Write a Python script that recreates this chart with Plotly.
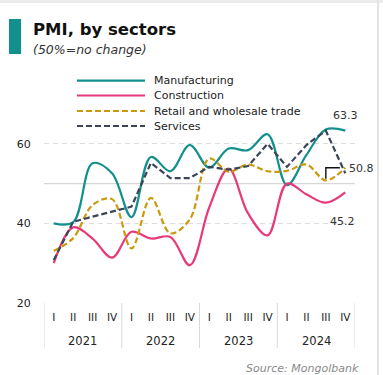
import plotly.graph_objects as go

# Quarterly PMI readings by sector, 2021 Q1 - 2024 Q4
quarters = ["I", "II", "III", "IV"] * 4
years = ["2021", "2022", "2023", "2024"]

manufacturing = [40.0, 40.3, 55.1, 52.6, 41.6, 56.7, 53.1, 59.7,
                 54.0, 58.8, 58.4, 62.4, 49.6, 57.2, 63.6, 63.3]
construction = [30.0, 39.0, 36.2, 31.4, 37.9, 36.2, 36.6, 29.5,
                44.0, 53.8, 42.5, 37.0, 50.0, 47.3, 45.2, 47.8]
retail = [33.1, 36.3, 44.6, 46.1, 33.7, 46.4, 37.5, 41.0,
          56.3, 53.0, 54.8, 53.1, 53.2, 54.8, 50.8, 54.0]
services = [30.8, 40.4, 41.7, 43.0, 44.2, 55.2, 51.4, 51.4,
            54.2, 53.5, 54.4, 60.0, 54.2, 59.7, 63.3, 52.6]

series_names = ["Manufacturing", "Construction",
                "Retail and wholesale trade", "Services"]
series_values = [manufacturing, construction, retail, services]

styles = {
    "Manufacturing": dict(color="#12908e", dash="solid", shape="spline"),
    "Construction": dict(color="#e8397a", dash="solid", shape="spline"),
    "Retail and wholesale trade": dict(color="#c99a0e", dash="6px,3px", shape="spline"),
    "Services": dict(color="#3b4558", dash="6px,3px", shape="linear"),
}

FONT = "DejaVu Sans"
x = list(range(len(quarters)))

fig = go.Figure()
for name, vals in zip(series_names, series_values):
    st = styles[name]
    fig.add_trace(go.Scatter(
        x=x, y=vals, mode="lines", name=name,
        line=dict(color=st["color"], width=2.2, dash=st["dash"],
                  shape=st["shape"], smoothing=1.0),
        showlegend=False, hoverinfo="skip",
    ))

# Pixel helpers for the plot frame (l=44, t=104, w=311, h=199)
def px_x(p):
    return (p - 44) / 311.0

def px_y(p):
    return (303 - p) / 199.0

shapes = []
annotations = []

# Frame decorations: top band, right rule, title marker
shapes.append(dict(type="rect", xref="paper", yref="paper",
                   x0=px_x(0), x1=px_x(383), y0=px_y(3), y1=px_y(0),
                   fillcolor="#ebebeb", line=dict(width=0), layer="below"))
shapes.append(dict(type="line", xref="paper", yref="paper",
                   x0=px_x(378), x1=px_x(378), y0=px_y(375), y1=px_y(0),
                   line=dict(color="#e3e3e3", width=2)))
shapes.append(dict(type="rect", xref="paper", yref="paper",
                   x0=px_x(9), x1=px_x(21), y0=px_y(54), y1=px_y(19),
                   fillcolor="#12908e", line=dict(width=0)))

annotations.append(dict(text="<b>PMI, by sectors</b>", xref="paper", yref="paper",
                        x=px_x(31), y=px_y(30), xanchor="left", yanchor="middle",
                        showarrow=False, font=dict(family=FONT, size=16.5, color="#111")))
annotations.append(dict(text="<i>(50%=no change)</i>", xref="paper", yref="paper",
                        x=px_x(31), y=px_y(49), xanchor="left", yanchor="middle",
                        showarrow=False, font=dict(family=FONT, size=12.5, color="#333")))

# Legend drawn as line samples with labels
legend_rows = [80.7, 95.5, 111, 126]
for name, row in zip(series_names, legend_rows):
    st = styles[name]
    shapes.append(dict(type="line", xref="paper", yref="paper",
                       x0=px_x(77), x1=px_x(145), y0=px_y(row), y1=px_y(row),
                       line=dict(color=st["color"], width=2.2, dash=st["dash"])))
    annotations.append(dict(text=name, xref="paper", yref="paper",
                            x=px_x(152), y=px_y(row), xanchor="left", yanchor="middle",
                            showarrow=False, font=dict(family=FONT, size=11, color="#222")))

# 50% reference line (solid)
shapes.append(dict(type="line", xref="paper", yref="y", x0=0, x1=1, y0=50, y1=50,
                   line=dict(color="#d6d6d6", width=1.2), layer="below"))

# Year separators below the axis
for b in [-0.5, 3.5, 7.5, 11.5, 15.5]:
    shapes.append(dict(type="line", xref="x", yref="paper", x0=b, x1=b,
                       y0=0, y1=px_y(348), line=dict(color="#d9d9d9", width=1)))
for i, yr in enumerate(years):
    annotations.append(dict(text=yr, xref="x", yref="paper", x=4 * i + 1.5, y=px_y(341),
                            xanchor="center", yanchor="middle", showarrow=False,
                            font=dict(family=FONT, size=11.5, color="#222")))

# Value call-outs for the latest readings
annotations.append(dict(text=f"{manufacturing[15]}", xref="x", yref="y",
                        x=15, y=manufacturing[15], yshift=15, xanchor="center",
                        yanchor="middle", showarrow=False,
                        font=dict(family=FONT, size=11, color="#333")))
annotations.append(dict(text=f"{construction[14]}", xref="x", yref="y",
                        x=14.85, y=construction[14], yshift=-19, xanchor="center",
                        yanchor="middle", showarrow=False,
                        font=dict(family=FONT, size=11, color="#333")))
annotations.append(dict(text=f"{retail[14]}", xref="x", yref="y",
                        x=15, y=retail[14], xshift=2, yshift=12, xanchor="left",
                        yanchor="middle", showarrow=False,
                        font=dict(family=FONT, size=11, color="#333")))
shapes.append(dict(type="path", xref="x", yref="y",
                   path=f"M 14,{retail[14] + 0.4} L 14,{retail[14] + 3.2} L 14.72,{retail[14] + 3.2}",
                   line=dict(color="#111", width=1.4)))

annotations.append(dict(text="<i>Source: Mongolbank</i>", xref="paper", yref="paper",
                        x=px_x(361), y=px_y(368), xanchor="right", yanchor="middle",
                        showarrow=False, font=dict(family=FONT, size=11, color="#8a8a8a")))

fig.update_layout(
    width=383, height=375,
    margin=dict(l=44, r=28, t=104, b=72, pad=0),
    paper_bgcolor="white", plot_bgcolor="white",
    shapes=shapes, annotations=annotations,
    showlegend=False,
    font=dict(family=FONT, size=11, color="#222"),
)
fig.update_xaxes(range=[-0.5, 15.5], tickvals=x, ticktext=quarters,
                 showgrid=False, zeroline=False, showline=False,
                 ticks="outside", ticklen=4, tickcolor="rgba(0,0,0,0)",
                 tickfont=dict(family=FONT, size=10.5, color="#222"), fixedrange=True)
fig.update_yaxes(range=[20, 70], tickvals=[20, 40, 60],
                 showgrid=True, gridcolor="#dcdcdc", griddash="5px,4px", gridwidth=1,
                 zeroline=False, showline=False,
                 ticks="outside", ticklen=10, tickcolor="rgba(0,0,0,0)",
                 tickfont=dict(family=FONT, size=11, color="#222"), fixedrange=True)

fig.write_html("out.html")
